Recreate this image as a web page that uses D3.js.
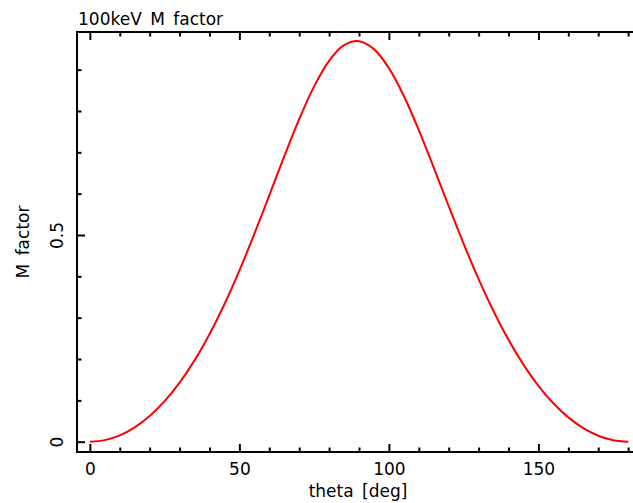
<!DOCTYPE html>
<html>
<head>
<meta charset="utf-8">
<script src="https://cdn.jsdelivr.net/npm/d3@7"></script>
<style>
  html, body { margin: 0; padding: 0; background: #fff; }
  svg { display: block; }
  text { font-family: "DejaVu Sans", sans-serif; font-size: 17px; fill: #000; }
  .lbl { word-spacing: 3px; }
</style>
</head>
<body>
<svg id="chart" width="633" height="503"></svg>
<script>
const title = "100keV M factor";
const xLabel = "theta [deg]";
const yLabel = "M factor";
const xMajorTicks = [0, 50, 100, 150];
const xMinorTicks = [10, 20, 30, 40, 60, 70, 80, 90, 110, 120, 130, 140, 160, 170, 180];
const yMajorTicks = [0, 0.5];
const yTickLabels = ["0", "0.5"];
const yMinorTicks = [0.1, 0.2, 0.3, 0.4, 0.6, 0.7, 0.8, 0.9];
const theta = [0, 5, 10, 15, 20, 25, 30, 35, 40, 45, 50, 55, 60, 65, 70, 75, 80, 85, 90,
               95, 100, 105, 110, 115, 120, 125, 130, 135, 140, 145, 150, 155, 160, 165, 170, 175, 180];
const mFactor = [0, 0.0038, 0.0153, 0.0347, 0.0621, 0.0980, 0.1428, 0.1967, 0.2601, 0.3326,
                 0.4139, 0.5025, 0.5958, 0.6902, 0.7803, 0.8596, 0.9213, 0.9591, 0.9690,
                 0.9497, 0.9038, 0.8363, 0.7537, 0.6628, 0.5696, 0.4788, 0.3935, 0.3157,
                 0.2466, 0.1865, 0.1353, 0.0929, 0.0589, 0.0328, 0.0145, 0.0036, 0];

const svg = d3.select("#chart");
const mLeft = 77, mRight = 641, mTop = 32, mBottom = 452;

const x = d3.scaleLinear().domain([-4.3, 184.3]).range([mLeft, mRight]);
const y = d3.scaleLinear().domain([-0.0249, 0.9911]).range([mBottom, mTop]);

const majorLen = 8, minorLen = 4.5;

function styleAxis(g) {
  g.select(".domain").remove();
  g.selectAll(".tick line").attr("stroke", "#000").attr("stroke-width", 2);
}

// bottom major with labels
svg.append("g").attr("transform", `translate(0,${mBottom})`)
  .call(d3.axisBottom(x).tickValues(xMajorTicks).tickSize(-majorLen).tickPadding(11).tickFormat(d3.format("d")))
  .call(styleAxis)
  .call(g => g.selectAll("text").attr("font-family", "DejaVu Sans").attr("font-size", 17).attr("fill", "#000"));
svg.append("g").attr("transform", `translate(0,${mBottom})`)
  .call(d3.axisBottom(x).tickValues(xMinorTicks).tickSize(-minorLen).tickFormat(""))
  .call(styleAxis);
// top
svg.append("g").attr("transform", `translate(0,${mTop})`)
  .call(d3.axisTop(x).tickValues(xMajorTicks).tickSize(-majorLen).tickFormat(""))
  .call(styleAxis);
svg.append("g").attr("transform", `translate(0,${mTop})`)
  .call(d3.axisTop(x).tickValues(xMinorTicks).tickSize(-minorLen).tickFormat(""))
  .call(styleAxis);
// left
svg.append("g").attr("transform", `translate(${mLeft},0)`)
  .call(d3.axisLeft(y).tickValues(yMajorTicks).tickSize(-majorLen).tickFormat((d, i) => yTickLabels[i]))
  .call(styleAxis)
  .call(g => g.selectAll("text")
    .attr("transform", "rotate(-90)")
    .attr("x", 0).attr("y", -13.7).attr("dy", 0)
    .attr("text-anchor", "middle")
    .attr("font-family", "DejaVu Sans").attr("font-size", 17).attr("fill", "#000"));
svg.append("g").attr("transform", `translate(${mLeft},0)`)
  .call(d3.axisLeft(y).tickValues(yMinorTicks).tickSize(-minorLen).tickFormat(""))
  .call(styleAxis);
// right
svg.append("g").attr("transform", `translate(${mRight},0)`)
  .call(d3.axisRight(y).tickValues(yMajorTicks).tickSize(-majorLen).tickFormat(""))
  .call(styleAxis);
svg.append("g").attr("transform", `translate(${mRight},0)`)
  .call(d3.axisRight(y).tickValues(yMinorTicks).tickSize(-minorLen).tickFormat(""))
  .call(styleAxis);

// frame
svg.append("rect")
  .attr("x", mLeft).attr("y", mTop)
  .attr("width", mRight - mLeft).attr("height", mBottom - mTop)
  .attr("fill", "none").attr("stroke", "#000").attr("stroke-width", 2);

// curve
const data = theta.map((t, i) => ({ t, m: mFactor[i] }));
svg.append("path")
  .datum(data)
  .attr("fill", "none")
  .attr("stroke", "#ff0000")
  .attr("stroke-width", 2)
  .attr("d", d3.line().x(d => x(d.t)).y(d => y(d.m)).curve(d3.curveCatmullRom.alpha(0.5)));

// title
svg.append("text").attr("class", "lbl").attr("x", 78).attr("y", 25).text(title);
// x label
svg.append("text").attr("class", "lbl").attr("x", 358).attr("y", 497)
  .attr("text-anchor", "middle").text(xLabel);
// y label
svg.append("text").attr("class", "lbl")
  .attr("transform", `translate(29,${(mTop + mBottom) / 2}) rotate(-90)`)
  .attr("text-anchor", "middle").text(yLabel);
</script>
</body>
</html>
